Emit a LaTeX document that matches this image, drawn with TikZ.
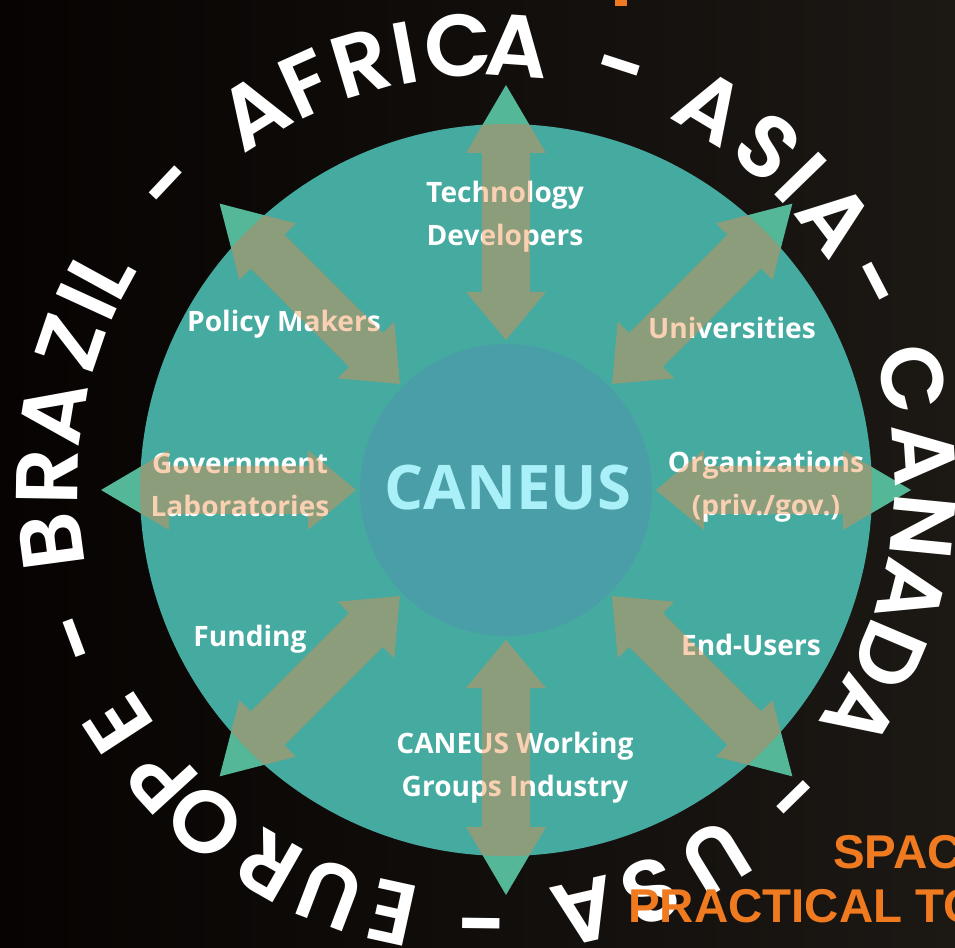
\documentclass[tikz,border=0pt]{standalone}
\usepackage{fontspec}
\setmainfont{Open Sans}
\newfontfamily\ringfont{Poppins SemiBold}
\newfontfamily\titlefont{Liberation Sans}
\usetikzlibrary{calc}

\definecolor{bigteal}{RGB}{69,170,160}
\definecolor{coreteal}{RGB}{74,158,168}
\definecolor{tipgreen}{RGB}{84,184,152}
\definecolor{arrowtan}{RGB}{244,139,67}
\definecolor{coretext}{RGB}{170,240,248}
\definecolor{titleorange}{RGB}{240,122,32}
\definecolor{bgdark}{RGB}{6,3,2}
\definecolor{bgright}{RGB}{28,24,20}

\tikzset{
  rolebox/.style={text=white, font=\bfseries\fontsize{16}{24.4}\selectfont, align=center, inner sep=0pt},
  ringchar/.style={text=white, font=\ringfont\fontsize{50}{52}\selectfont, inner sep=0pt, text height=34pt, text depth=0pt},
  titleline/.style={text=titleorange, font=\titlefont\bfseries\fontsize{27}{31}\selectfont, inner sep=0pt, anchor=base west},
  dblarrow/.pic={
    \fill (3.0,0) -- (3.96,0.8) -- (3.96,0.48) -- (6.74,0.48) -- (6.74,0.8) -- (8.1,0)
      -- (6.74,-0.8) -- (6.74,-0.48) -- (3.96,-0.48) -- (3.96,-0.8) -- cycle;
  }
}

\begin{document}
\begin{tikzpicture}
  \clip (-10.12,-9.16) rectangle (8.98,9.8);
  \shade[left color=bgdark, right color=bgright] (-10.12,-9.16) rectangle (8.98,9.8);

  % tips that stick out of the disc
  \foreach \a in {0,45,...,315}
    \pic[tipgreen, rotate=\a] {dblarrow};

  \fill[bigteal] (0,0) circle (7.32);
  \fill[coreteal] (0,0) circle (2.92);

  \node[rolebox] (techdev) at (-0.02,5.46) {Technology\\Developers};
  \node[rolebox] (policy) at (-4.44,3.32) {Policy Makers};
  \node[rolebox] (univ) at (4.52,3.24) {Universities};
  \node[rolebox] (govlab) at (-5.32,0.1) {Government\\Laboratories};
  \node[rolebox] (orgs) at (5.2,0.06) {Organizations\\(priv./gov.)};
  \node[rolebox] (funding) at (-5.12,-2.98) {Funding};
  \node[rolebox] (endusers) at (4.9,-3.1) {End-Users};
  \node[rolebox] (working) at (0.18,-5.56) {CANEUS Working\\Groups Industry};

  % the see-through arrows inside the disc
  \begin{scope}
    \clip (0,0) circle (7.32);
    \foreach \a in {0,45,...,315}
      \pic[arrowtan, opacity=0.4, rotate=\a] {dblarrow};
  \end{scope}

  \node[text=coretext, font=\bfseries\fontsize{35}{40}\selectfont] (caneus) at (0.04,0.04) {CANEUS};

  % ring of names
  \coordinate (ringc) at (-0.4,0.12);
  \foreach \a/\c [count=\i] in {122.0/A,114.2/F,106.6/R,100.6/I,93.6/C,86.0/A,72.0/-,
      59.1/A,50.1/S,44.2/I,37.2/A,27.4/-,
      13.9/C,3.8/A,-5.6/N,-14.3/A,-23.0/D,-31.4/A,-45.6/-,
      -58.5/U,-68.1/S,-77.0/A,-90.7/-,
      -102.4/E,-110.8/U,-119.7/R,-129.7/O,-137.6/P,-146.9/E,-159.5/-,
      -172.4/B,-180.9/R,-189.4/A,-198.8/Z,-204.6/I,-208.7/L,-223.3/-}
    \node[ringchar, rotate=\a-90] (ring\i) at ($(ringc)+(\a:8.76)$) {\c};

  \fill[titleorange] (2.18,9.68) rectangle (2.42,9.8);
  \node[titleline] (title1) at (6.54,-7.56) {SPAC};
  \node[titleline] (title2) at (2.44,-8.64) {PRACTICAL TO};
\end{tikzpicture}
\end{document}
